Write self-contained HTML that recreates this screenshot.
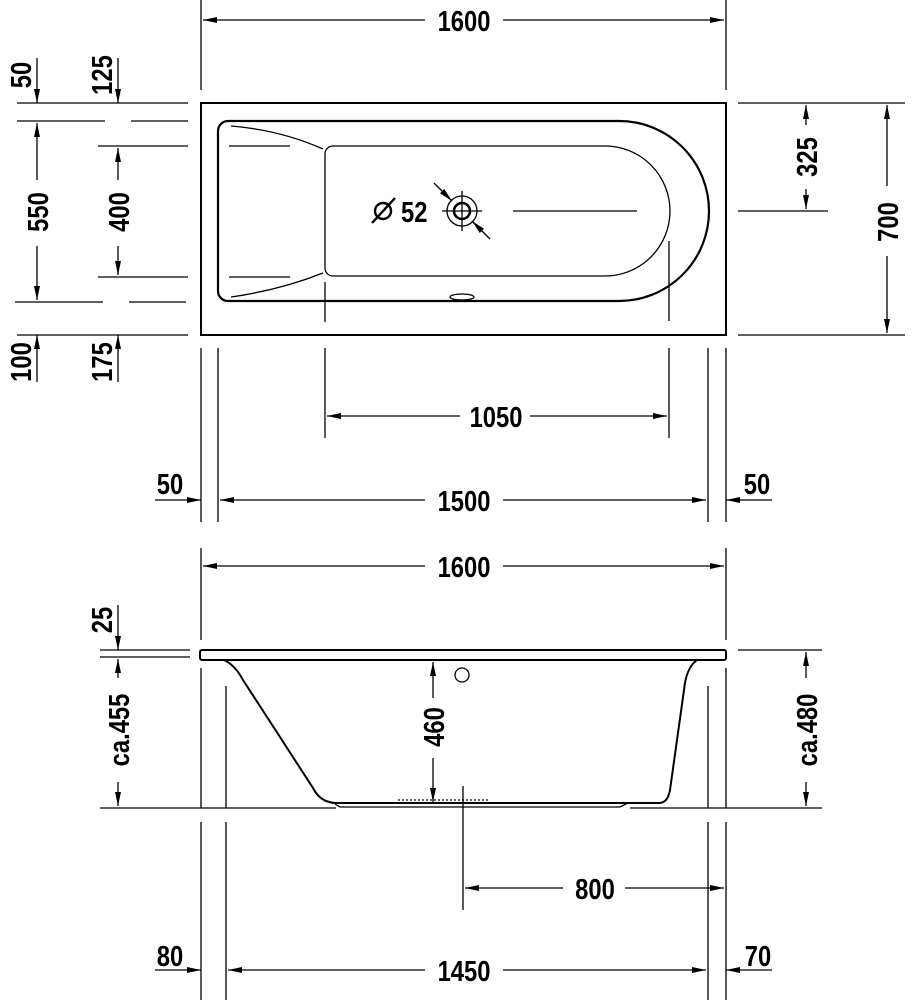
<!DOCTYPE html>
<html><head><meta charset="utf-8"><style>
html,body{margin:0;padding:0;background:#fff;}
svg{display:block}
text{font-family:"Liberation Sans",sans-serif;font-weight:bold;font-size:29px;fill:#000}
</style></head><body>
<svg width="912" height="1000" viewBox="0 0 912 1000" xmlns="http://www.w3.org/2000/svg">
<defs>
<marker id="a" viewBox="0 0 14 6" refX="14" refY="3" markerWidth="14" markerHeight="6" markerUnits="userSpaceOnUse" orient="auto-start-reverse"><path d="M0,0 L14,3 L0,6 Z" fill="#000"/></marker>
</defs>
<g stroke="#000" stroke-width="1.3" fill="none">
<line x1="201" y1="0" x2="201" y2="90"/><line x1="726" y1="0" x2="726" y2="90"/>
<line x1="203" y1="20" x2="425" y2="20" marker-start="url(#a)"/><line x1="503" y1="20" x2="724" y2="20" marker-end="url(#a)"/>
<rect x="201" y="103" width="525" height="232" stroke-width="2"/>
<path d="M228,121 H619 A90,90 0 0 1 619,301 H228 A10,10 0 0 1 218,291 V131 A10,10 0 0 1 228,121 Z" stroke-width="2.2"/>
<path d="M333,146 H605 A65,65 0 0 1 605,276 H333 A8,8 0 0 1 325,268 V154 A8,8 0 0 1 333,146 Z"/>
<path d="M231,126 Q280,130 323,149"/><path d="M231,297 Q280,290 323,273"/>
<line x1="229" y1="146" x2="290" y2="146"/><line x1="229" y1="277" x2="290" y2="277"/>
<line x1="325" y1="282" x2="325" y2="322"/><line x1="669" y1="241" x2="669" y2="321"/>
<line x1="513" y1="211" x2="637" y2="211"/>
<circle cx="462" cy="211" r="15"/><circle cx="462" cy="211" r="8" stroke-width="2.5"/>
<line x1="442" y1="211" x2="482" y2="211"/><line x1="462" y1="191" x2="462" y2="231"/>
<line x1="434" y1="183" x2="452" y2="201" marker-end="url(#a)"/><line x1="490" y1="239" x2="472" y2="221" marker-end="url(#a)"/>
<ellipse cx="462" cy="297" rx="12" ry="3"/>
<line x1="372" y1="223" x2="395" y2="198" stroke-width="2.4"/><circle cx="383" cy="211" r="8" stroke-width="2.4"/>
<line x1="17" y1="103" x2="188" y2="103"/>
<line x1="17" y1="121" x2="105" y2="121"/><line x1="131" y1="121" x2="188" y2="121"/>
<line x1="98" y1="146" x2="188" y2="146"/><line x1="98" y1="277" x2="188" y2="277"/>
<line x1="15" y1="302" x2="103" y2="302"/><line x1="129" y1="302" x2="186" y2="302"/>
<line x1="17" y1="335" x2="188" y2="335"/>
<line x1="37" y1="58" x2="37" y2="103" marker-end="url(#a)"/>
<line x1="118" y1="58" x2="118" y2="103" marker-end="url(#a)"/>
<line x1="37" y1="123" x2="37" y2="180" marker-start="url(#a)"/><line x1="37" y1="246" x2="37" y2="300" marker-end="url(#a)"/>
<line x1="118" y1="148" x2="118" y2="180" marker-start="url(#a)"/><line x1="118" y1="246" x2="118" y2="275" marker-end="url(#a)"/>
<line x1="37" y1="382" x2="37" y2="335" marker-end="url(#a)"/>
<line x1="118" y1="382" x2="118" y2="335" marker-end="url(#a)"/>
<line x1="738" y1="103" x2="905" y2="103"/><line x1="738" y1="211" x2="828" y2="211"/><line x1="738" y1="335" x2="905" y2="335"/>
<line x1="806" y1="105" x2="806" y2="125" marker-start="url(#a)"/><line x1="806" y1="189" x2="806" y2="209" marker-end="url(#a)"/>
<line x1="887" y1="105" x2="887" y2="186" marker-start="url(#a)"/><line x1="887" y1="256" x2="887" y2="333" marker-end="url(#a)"/>
<line x1="201" y1="348" x2="201" y2="522"/><line x1="218" y1="348" x2="218" y2="522"/>
<line x1="325" y1="348" x2="325" y2="438"/><line x1="669" y1="348" x2="669" y2="438"/>
<line x1="708" y1="348" x2="708" y2="522"/><line x1="726" y1="348" x2="726" y2="522"/>
<line x1="327" y1="416" x2="460" y2="416" marker-start="url(#a)"/><line x1="530" y1="416" x2="667" y2="416" marker-end="url(#a)"/>
<line x1="220" y1="500" x2="425" y2="500" marker-start="url(#a)"/><line x1="503" y1="500" x2="706" y2="500" marker-end="url(#a)"/>
<line x1="155" y1="500" x2="201" y2="500" marker-end="url(#a)"/>
<line x1="772" y1="500" x2="726" y2="500" marker-end="url(#a)"/>
<line x1="201" y1="548" x2="201" y2="640"/><line x1="726" y1="548" x2="726" y2="640"/>
<line x1="203" y1="566" x2="425" y2="566" marker-start="url(#a)"/><line x1="503" y1="566" x2="724" y2="566" marker-end="url(#a)"/>
<rect x="200" y="650" width="526" height="10" rx="2" stroke-width="2"/>
<path d="M224,660 Q235,665 243,680 L313,788 Q320,802 335,803 L660,803 Q668,802 670,790 L684,690 Q686,668 697,660" stroke-width="2"/>
<path d="M335,804 L340,807 L620,807 L628,803"/>
<circle cx="462" cy="675" r="7"/>
<line x1="398" y1="800" x2="490" y2="800" stroke-dasharray="2,2"/>
<line x1="100" y1="650" x2="190" y2="650"/><line x1="100" y1="657" x2="190" y2="657"/>
<line x1="738" y1="650" x2="822" y2="650"/>
<line x1="100" y1="808" x2="336" y2="808"/><line x1="630" y1="808" x2="822" y2="808"/>
<line x1="118" y1="605" x2="118" y2="650" marker-end="url(#a)"/>
<line x1="118" y1="659" x2="118" y2="678" marker-start="url(#a)"/><line x1="118" y1="782" x2="118" y2="806" marker-end="url(#a)"/>
<line x1="806" y1="652" x2="806" y2="678" marker-start="url(#a)"/><line x1="806" y1="782" x2="806" y2="806" marker-end="url(#a)"/>
<line x1="433" y1="662" x2="433" y2="698" marker-start="url(#a)"/><line x1="433" y1="758" x2="433" y2="802" marker-end="url(#a)"/>
<line x1="201" y1="668" x2="201" y2="808"/><line x1="226" y1="686" x2="226" y2="808"/>
<line x1="708" y1="686" x2="708" y2="808"/><line x1="726" y1="668" x2="726" y2="808"/>
<line x1="201" y1="822" x2="201" y2="1000"/><line x1="226" y1="822" x2="226" y2="1000"/>
<line x1="708" y1="822" x2="708" y2="1000"/><line x1="726" y1="822" x2="726" y2="1000"/>
<line x1="463" y1="786" x2="463" y2="910"/>
<line x1="465" y1="888" x2="563" y2="888" marker-start="url(#a)"/><line x1="625" y1="888" x2="724" y2="888" marker-end="url(#a)"/>
<line x1="228" y1="970" x2="425" y2="970" marker-start="url(#a)"/><line x1="503" y1="970" x2="706" y2="970" marker-end="url(#a)"/>
<line x1="155" y1="970" x2="201" y2="970" marker-end="url(#a)"/>
<line x1="772" y1="970" x2="726" y2="970" marker-end="url(#a)"/>
</g>
<g text-anchor="middle">
<text transform="translate(464,31) scale(0.82,1)">1600</text>
<text transform="translate(401,222) scale(0.82,1)" text-anchor="start">52</text>
<text transform="translate(31,75) rotate(-90) scale(0.82,1)">50</text>
<text transform="translate(112,75) rotate(-90) scale(0.82,1)">125</text>
<text transform="translate(48,212) rotate(-90) scale(0.82,1)">550</text>
<text transform="translate(129,212) rotate(-90) scale(0.82,1)">400</text>
<text transform="translate(31,362) rotate(-90) scale(0.82,1)">100</text>
<text transform="translate(112,362) rotate(-90) scale(0.82,1)">175</text>
<text transform="translate(817,157) rotate(-90) scale(0.82,1)">325</text>
<text transform="translate(898,222) rotate(-90) scale(0.82,1)">700</text>
<text transform="translate(496,427) scale(0.82,1)">1050</text>
<text transform="translate(464,511) scale(0.82,1)">1500</text>
<text transform="translate(170,494) scale(0.82,1)">50</text>
<text transform="translate(757,494) scale(0.82,1)">50</text>
<text transform="translate(464,577) scale(0.82,1)">1600</text>
<text transform="translate(112,620) rotate(-90) scale(0.82,1)">25</text>
<text transform="translate(129,730) rotate(-90) scale(0.82,1)">ca.455</text>
<text transform="translate(817,730) rotate(-90) scale(0.82,1)">ca.480</text>
<text transform="translate(444,727) rotate(-90) scale(0.82,1)">460</text>
<text transform="translate(595,899) scale(0.82,1)">800</text>
<text transform="translate(464,981) scale(0.82,1)">1450</text>
<text transform="translate(170,966) scale(0.82,1)">80</text>
<text transform="translate(758,966) scale(0.82,1)">70</text>
</g>
</svg>
</body></html>
